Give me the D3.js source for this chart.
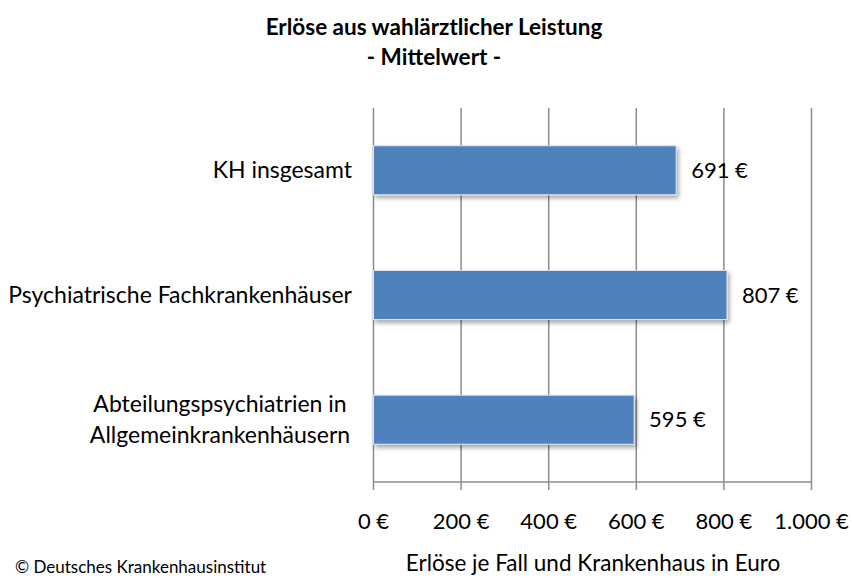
<html>
<head>
    <script src="https://d3js.org/d3.v7.min.js"></script>
    <style>
        body { margin: 0; background: white; }
        text { font-family: Lato, "Open Sans", sans-serif; fill: #000; }
    </style>
</head>
<body>
    <svg id="chart" width="852" height="578"></svg>
    <script>
        // data
        const categories = ["KH insgesamt", "Psychiatrische Fachkrankenhäuser", "Abteilungspsychiatrien in\nAllgemeinkrankenhäusern"];
        const values = [691, 807, 595];
        const tickValues = [0, 200, 400, 600, 800, 1000];
        const tickLabels = ["0 €", "200 €", "400 €", "600 €", "800 €", "1.000 €"];

        let svg = d3.select("svg#chart");

        let defs = svg.append("defs");
        let shadow = defs.append("filter").attr("id", "shadow")
            .attr("x", "-5%").attr("y", "-20%").attr("width", "115%").attr("height", "150%");
        shadow.append("feDropShadow")
            .attr("dx", 2).attr("dy", 3).attr("stdDeviation", 2)
            .attr("flood-color", "#000").attr("flood-opacity", 0.35);

        let xScale = d3.scaleLinear().domain([0, 1000]).range([373.5, 811.5]);
        let yScale = d3.scaleBand().domain(categories).range([108, 482])
            .paddingInner(0.607).paddingOuter(0.303);

        // gridlines
        svg.selectAll("line.grid").data(tickValues)
            .join("line")
            .attr("class", "grid")
            .attr("x1", d => xScale(d)).attr("x2", d => xScale(d))
            .attr("y1", 108).attr("y2", 490)
            .style("stroke", "#8c8c8c").style("stroke-width", 1.5);

        // axis line
        svg.append("line")
            .attr("x1", xScale(0)).attr("x2", xScale(1000))
            .attr("y1", 482).attr("y2", 482)
            .style("stroke", "#8c8c8c").style("stroke-width", 1.5);

        // bars
        svg.selectAll("rect.bar").data(values)
            .join("rect")
            .attr("class", "bar")
            .attr("x", xScale(0))
            .attr("y", (d, i) => yScale(categories[i]))
            .attr("width", d => xScale(d) - xScale(0))
            .attr("height", yScale.bandwidth())
            .style("fill", "#4f81bd")
            .style("stroke", "#dbe5f1").style("stroke-width", 1)
            .attr("filter", "url(#shadow)");

        // value labels
        svg.selectAll("text.val").data(values)
            .join("text")
            .attr("class", "val")
            .attr("x", d => xScale(d) + 15)
            .attr("y", (d, i) => yScale(categories[i]) + yScale.bandwidth() / 2)
            .attr("dy", "0.35em")
            .style("font-size", "22px")
            .text(d => d + " €");

        // category labels
        categories.forEach((c, i) => {
            let lines = c.split("\n");
            let cy = yScale(c) + yScale.bandwidth() / 2;
            let t = svg.append("text")
                .style("font-size", "23px")
                .attr("text-anchor", lines.length > 1 ? "middle" : "end");
            lines.forEach((l, j) => {
                t.append("tspan")
                    .attr("x", lines.length > 1 ? 220 : 352)
                    .attr("y", cy + (j - (lines.length - 1) / 2) * 31)
                    .attr("dy", "0.35em")
                    .text(l);
            });
        });

        // tick labels
        svg.selectAll("text.tick").data(tickValues)
            .join("text")
            .attr("class", "tick")
            .attr("x", d => xScale(d))
            .attr("y", 521)
            .attr("dy", "0.35em")
            .attr("text-anchor", "middle")
            .style("font-size", "22px")
            .text((d, i) => tickLabels[i]);

        // axis title
        svg.append("text")
            .attr("x", 593).attr("y", 563).attr("dy", "0.35em")
            .attr("text-anchor", "middle")
            .style("font-size", "22.5px")
            .text("Erlöse je Fall und Krankenhaus in Euro");

        // title
        svg.append("text")
            .attr("x", 434).attr("y", 27).attr("dy", "0.35em")
            .attr("text-anchor", "middle")
            .style("font-size", "22.5px").style("font-weight", "bold")
            .text("Erlöse aus wahlärztlicher Leistung");
        svg.append("text")
            .attr("x", 434).attr("y", 57).attr("dy", "0.35em")
            .attr("text-anchor", "middle")
            .style("font-size", "22.5px").style("font-weight", "bold")
            .text("- Mittelwert -");

        // footer
        svg.append("text")
            .attr("x", 15).attr("y", 573)
            .style("font-size", "17px")
            .text("© Deutsches Krankenhausinstitut");
    </script>
</body>
</html>
